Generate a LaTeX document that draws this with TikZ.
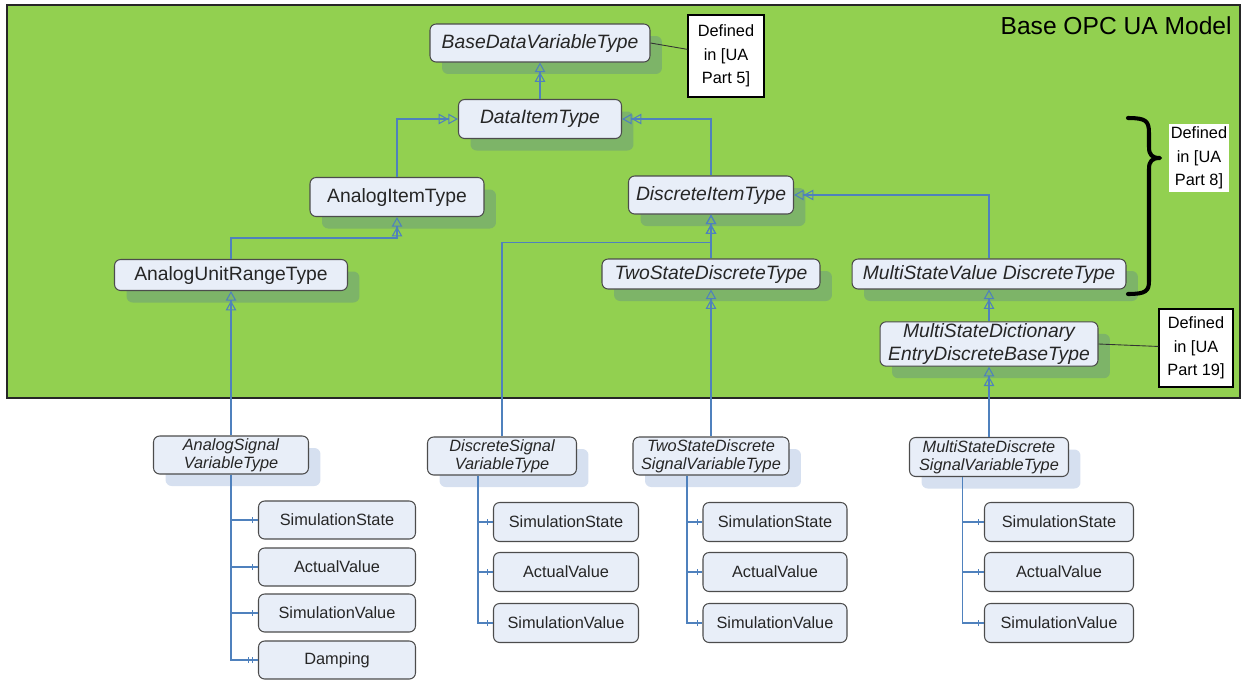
\documentclass[tikz,border=0pt]{standalone}
\usepackage{fontspec}
\setmainfont{Liberation Sans}
\usetikzlibrary{arrows.meta,shadows,decorations.markings}

\definecolor{modelgreen}{RGB}{146,208,80}
\definecolor{typefill}{RGB}{232,238,248}
\definecolor{reflink}{RGB}{79,129,189}
\definecolor{greenshadow}{RGB}{125,180,104}
\definecolor{paleshadow}{RGB}{214,224,240}

\begin{document}
\begin{tikzpicture}[x=0.02cm,y=-0.02cm,
  typebox/.style={draw=black!70,fill=typefill,rounded corners=3.5pt,line width=0.6pt,
    inner sep=1pt,align=center,text=black!85},
  basetype/.style={typebox,font=\fontsize{11}{13}\selectfont\itshape,
    general shadow={fill=greenshadow,shadow xshift=0.24cm,shadow yshift=-0.24cm}},
  analogtype/.style={basetype,font=\fontsize{11}{13}\selectfont},
  signaltype/.style={typebox,font=\fontsize{9.3}{10}\selectfont\itshape,
    general shadow={fill=paleshadow,shadow xshift=0.24cm,shadow yshift=-0.24cm}},
  propbox/.style={typebox,font=\fontsize{9.3}{11}\selectfont},
  subtype/.style={draw=reflink,line width=0.6pt,
    -{Triangle[open,length=5.5pt,width=6pt]Triangle[open,length=5.5pt,width=6pt]}},
  haspart/.style={draw=reflink,line width=0.6pt,postaction=decorate,
    decoration={markings,mark=at position -3pt with {\draw[reflink,line width=0.6pt] (0,-1.8pt) -- (0,1.8pt);}}},
  hasparttwo/.style={draw=reflink,line width=0.6pt,postaction=decorate,
    decoration={markings,mark=at position -3pt with {\draw[reflink,line width=0.6pt] (0,-1.8pt) -- (0,1.8pt);},
      mark=at position -5.3pt with {\draw[reflink,line width=0.6pt] (0,-1.8pt) -- (0,1.8pt);}}},
  partnote/.style={draw=black,line width=0.8pt,fill=white,align=center,inner sep=1pt,
    font=\fontsize{9.3}{13.3}\selectfont},
  notelink/.style={draw=black!80,line width=0.5pt}]
\useasboundingbox (0,0) rectangle (1242,684);

\filldraw[fill=modelgreen,draw=black!85,line width=1pt] (7,5) rectangle (1240,398);
\node[anchor=base east,inner sep=0pt,font=\fontsize{14}{16}\selectfont] (modeltitle) at (1232,34) {Base OPC UA Model};

\node[basetype,minimum width=4.4cm,minimum height=0.76cm] (BaseData) at (540,43) {BaseDataVariableType};
\node[basetype,minimum width=3.26cm,minimum height=0.78cm] (DataItem) at (540,119) {DataItemType};
\node[analogtype,minimum width=3.48cm,minimum height=0.78cm] (AnalogItem) at (397,197) {AnalogItemType};
\node[basetype,minimum width=3.3cm,minimum height=0.76cm] (DiscreteItem) at (711,195) {DiscreteItemType};
\node[analogtype,minimum width=4.66cm,minimum height=0.62cm] (AnalogUnitRange) at (231,275) {AnalogUnitRangeType};
\node[basetype,minimum width=4.36cm,minimum height=0.6cm] (TwoState) at (711,274) {TwoStateDiscreteType};
\node[basetype,minimum width=5.48cm,minimum height=0.6cm] (MultiValue) at (989,274) {MultiStateValue DiscreteType};
\node[basetype,minimum width=4.36cm,minimum height=0.88cm] (MultiDict) at (989,344) {MultiStateDictionary\\EntryDiscreteBaseType};

\node[partnote,minimum width=1.52cm,minimum height=1.64cm] (part5) at (726,56) {Defined\\in [UA\\Part 5]};
\node[partnote,draw=none,minimum width=1.16cm,minimum height=1.38cm] (part8) at (1199,158) {Defined\\in [UA\\Part 8]};
\node[partnote,minimum width=1.48cm,minimum height=1.56cm] (part19) at (1196,348) {Defined\\in [UA\\Part 19]};

\node[signaltype,minimum width=3.1cm,minimum height=0.76cm] (AnalogSignal) at (231,455) {AnalogSignal\\VariableType};
\node[signaltype,minimum width=2.98cm,minimum height=0.76cm] (DiscreteSignal) at (502,456) {DiscreteSignal\\VariableType};
\node[signaltype,minimum width=3.12cm,minimum height=0.76cm] (TwoStateSignal) at (711,456) {TwoStateDiscrete\\SignalVariableType};
\node[signaltype,minimum width=3.18cm,minimum height=0.78cm] (MultiSignal) at (989,457) {MultiStateDiscrete\\SignalVariableType};

\node[propbox,minimum width=3.14cm,minimum height=0.76cm] (aSimState) at (337,520) {SimulationState};
\node[propbox,minimum width=3.14cm,minimum height=0.76cm] (aActual) at (337,567) {ActualValue};
\node[propbox,minimum width=3.14cm,minimum height=0.76cm] (aSimValue) at (337,613) {SimulationValue};
\node[propbox,minimum width=3.14cm,minimum height=0.76cm] (aDamping) at (337,660) {Damping};

\node[propbox,minimum width=2.9cm,minimum height=0.78cm] (dSimState) at (566,522) {SimulationState};
\node[propbox,minimum width=2.9cm,minimum height=0.78cm] (dActual) at (566,572) {ActualValue};
\node[propbox,minimum width=2.9cm,minimum height=0.78cm] (dSimValue) at (566,623) {SimulationValue};

\node[propbox,minimum width=2.88cm,minimum height=0.78cm] (tSimState) at (775,522) {SimulationState};
\node[propbox,minimum width=2.88cm,minimum height=0.78cm] (tActual) at (775,572) {ActualValue};
\node[propbox,minimum width=2.88cm,minimum height=0.78cm] (tSimValue) at (775,623) {SimulationValue};

\node[propbox,minimum width=2.98cm,minimum height=0.78cm] (mSimState) at (1059,522) {SimulationState};
\node[propbox,minimum width=2.98cm,minimum height=0.78cm] (mActual) at (1059,572) {ActualValue};
\node[propbox,minimum width=2.98cm,minimum height=0.78cm] (mSimValue) at (1059,623) {SimulationValue};

\draw[subtype] (DataItem) -- (BaseData);
\draw[subtype] (AnalogItem.north) |- (DataItem.west);
\draw[subtype] (DiscreteItem.north) |- (DataItem.east);
\draw[subtype] (AnalogUnitRange.north) -- ++(0,-21) -| (AnalogItem.south);
\draw[subtype] (TwoState) -- (DiscreteItem);
\draw[subtype] (DiscreteSignal.north) -- ++(0,-194) -| (DiscreteItem.south);
\draw[subtype] (MultiValue.north) |- (DiscreteItem.east);
\draw[subtype] (MultiDict) -- (MultiValue);
\draw[subtype] (AnalogSignal) -- (AnalogUnitRange);
\draw[subtype] (TwoStateSignal) -- (TwoState);
\draw[subtype] (MultiSignal) -- (MultiDict);

\draw[haspart] (AnalogSignal.south) |- (aSimState.west);
\draw[haspart] (AnalogSignal.south) |- (aActual.west);
\draw[haspart] (AnalogSignal.south) |- (aSimValue.west);
\draw[hasparttwo] (AnalogSignal.south) |- (aDamping.west);
\draw[haspart] ([xshift=-0.48cm]DiscreteSignal.south) |- (dSimState.west);
\draw[haspart] ([xshift=-0.48cm]DiscreteSignal.south) |- (dActual.west);
\draw[haspart] ([xshift=-0.48cm]DiscreteSignal.south) |- (dSimValue.west);
\draw[haspart] ([xshift=-0.48cm]TwoStateSignal.south) |- (tSimState.west);
\draw[haspart] ([xshift=-0.48cm]TwoStateSignal.south) |- (tActual.west);
\draw[haspart] ([xshift=-0.48cm]TwoStateSignal.south) |- (tSimValue.west);
\draw[haspart] ([xshift=-0.53cm]MultiSignal.south) |- (mSimState.west);
\draw[haspart] ([xshift=-0.53cm]MultiSignal.south) |- (mActual.west);
\draw[haspart] ([xshift=-0.53cm]MultiSignal.south) |- (mSimValue.west);

\draw[notelink] (BaseData.east) -- (part5);
\draw[notelink] (MultiDict.east) -- (part19);

\draw[line width=2.3pt,line cap=round,line join=round]
  (1128,118) .. controls (1146,118) and (1149,121) .. (1149,133) -- (1149,147)
  .. controls (1149,155) and (1152,158) .. (1160,158)
  .. controls (1152,158) and (1149,161) .. (1149,169) -- (1149,281)
  .. controls (1149,291) and (1146,294) .. (1128,294);
\end{tikzpicture}
\end{document}
